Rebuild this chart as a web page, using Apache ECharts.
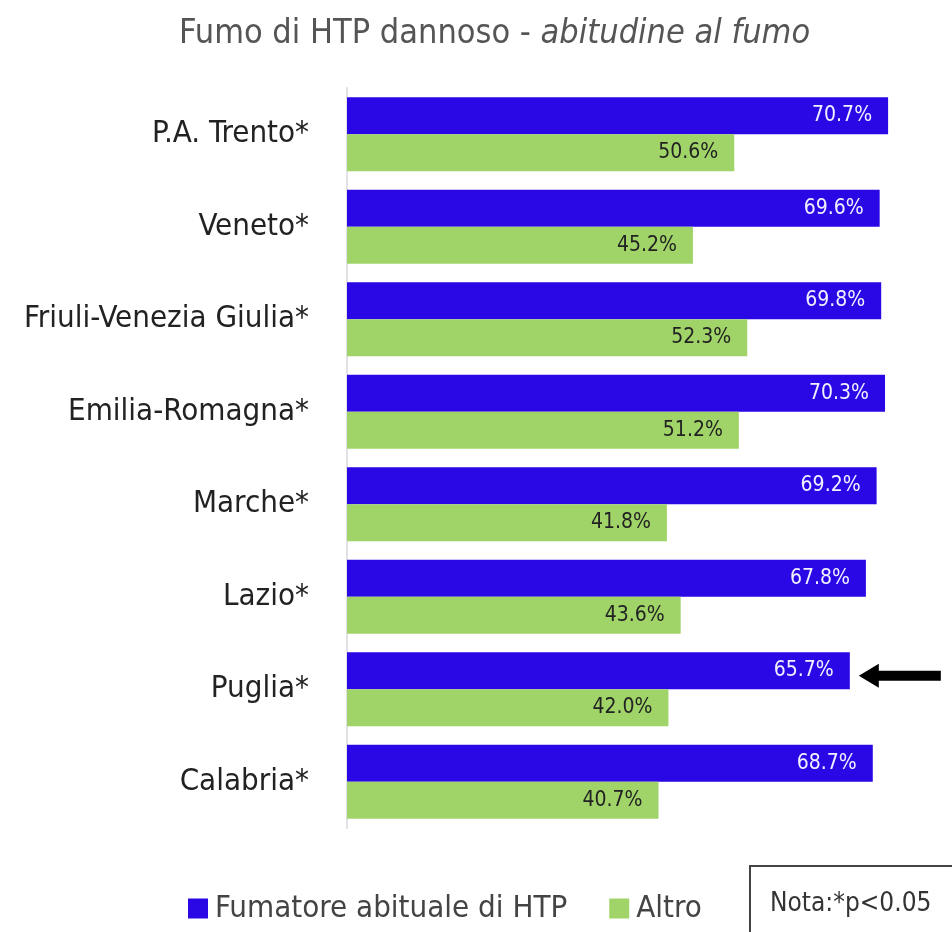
<!DOCTYPE html>
<html>
<head>
<meta charset="utf-8">
<script src="https://cdn.jsdelivr.net/npm/echarts@6/dist/echarts.min.js"></script>
<style>
  html, body { margin: 0; padding: 0; background: #fff; }
  #chart { width: 952px; height: 932px; }
</style>
</head>
<body>
<div id="chart"></div>
<script>
// Regions, top to bottom
const regions = [
  'P.A. Trento*', 'Veneto*', 'Friuli-Venezia Giulia*', 'Emilia-Romagna*',
  'Marche*', 'Lazio*', 'Puglia*', 'Calabria*'
];
// % who consider HTP smoke harmful
const fumatoriHTP = [70.7, 69.6, 69.8, 70.3, 69.2, 67.8, 65.7, 68.7];
const altro = [50.6, 45.2, 52.3, 51.2, 41.8, 43.6, 42.0, 40.7];
const seriesNames = ['Fumatore abituale di HTP', 'Altro'];
const highlighted = 'Puglia*';

const FONT = '"Liberation Sans Narrow", "DejaVu Sans Condensed", sans-serif';
const BLUE = '#2a08e6';
const GREEN = '#a0d468';

const chart = echarts.init(document.getElementById('chart'));

const labelFmt = p => p.value.toFixed(1) + '%';

chart.setOption({
  animation: false,
  title: {
    text: '{n|Fumo di HTP dannoso - }{i|abitudine al fumo}',
    left: 174,
    top: 12,
    textStyle: {
      rich: {
        n: { fontFamily: FONT, fontSize: 34, color: '#555', fontWeight: 'normal' },
        i: { fontFamily: FONT, fontSize: 34, color: '#555', fontWeight: 'normal', fontStyle: 'italic' }
      }
    }
  },
  legend: {
    data: seriesNames,
    left: 183,
    top: 888,
    itemWidth: 20,
    itemHeight: 20,
    itemGap: 42,
    icon: 'rect',
    textStyle: { fontFamily: FONT, fontSize: 31, color: '#444', padding: [0, 0, 0, 2] }
  },
  grid: {
    left: 347, top: 88, width: 574, height: 740,
    containLabel: false,
    outerBoundsMode: 'none'
  },
  xAxis: {
    type: 'value',
    min: 0,
    max: 75,
    show: false
  },
  yAxis: {
    type: 'category',
    data: regions,
    inverse: true,
    axisLine: { show: true, lineStyle: { color: '#e2e2e6', width: 2 } },
    axisTick: { show: false },
    axisLabel: {
      fontFamily: FONT,
      fontSize: 31,
      color: '#222',
      margin: 38
    }
  },
  series: [
    {
      name: seriesNames[0],
      type: 'bar',
      data: fumatoriHTP,
      barGap: '0%',
      barCategoryGap: '20%',
      itemStyle: { color: BLUE },
      label: {
        show: true,
        position: 'insideRight',
        distance: 16,
        formatter: labelFmt,
        fontFamily: FONT,
        fontSize: 21,
        color: '#f2f0ff'
      }
    },
    {
      name: seriesNames[1],
      type: 'bar',
      data: altro,
      itemStyle: { color: GREEN },
      label: {
        show: true,
        position: 'insideRight',
        distance: 16,
        formatter: labelFmt,
        fontFamily: FONT,
        fontSize: 21,
        color: '#222'
      }
    }
  ]
});

// Arrow pointing at the highlighted region's HTP bar, plus the significance note
const idx = regions.indexOf(highlighted);
const end = chart.convertToPixel({ seriesIndex: 0 }, [fumatoriHTP[idx], idx]);
const bandH = 740 / regions.length;
const ay = end[1] - bandH * 0.2 + 5;
const ax = end[0] + 9;

chart.setOption({
  graphic: [
    {
      type: 'polygon',
      shape: {
        points: [
          [ax, ay], [ax + 20, ay - 12], [ax + 20, ay - 5], [ax + 82, ay - 5],
          [ax + 82, ay + 5], [ax + 20, ay + 5], [ax + 20, ay + 12]
        ]
      },
      style: { fill: '#000' }
    },
    {
      type: 'rect',
      shape: { x: 750, y: 866, width: 220, height: 80 },
      style: { fill: '#fff', stroke: '#444', lineWidth: 2 }
    },
    {
      type: 'text',
      x: 770,
      y: 904,
      style: {
        text: 'Nota:*p<0.05',
        fontFamily: FONT,
        fontSize: 26,
        fill: '#333',
        verticalAlign: 'middle'
      }
    }
  ]
});
</script>
</body>
</html>
